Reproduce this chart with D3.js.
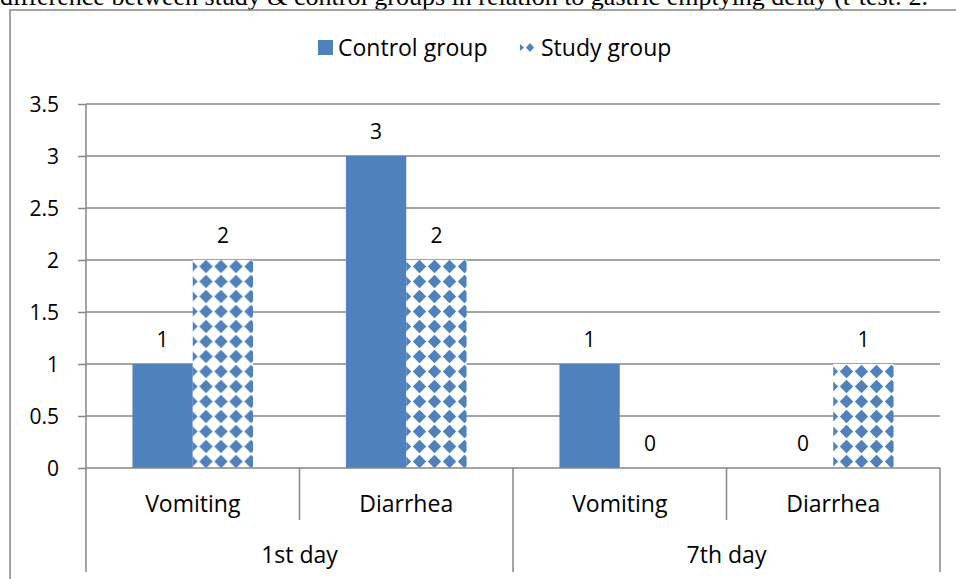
<!DOCTYPE html>
<html>
<head>
<meta charset="utf-8">
<script src="https://cdn.jsdelivr.net/npm/d3@7"></script>
<style>
  body { margin: 0; background: #fff; }
  svg { display: block; }
</style>
</head>
<body>
<script>
    // Data
    let subCats = ["Vomiting", "Diarrhea", "Vomiting", "Diarrhea"];
    let groups = ["1st day", "1st day", "7th day", "7th day"];
    let dayLabels = ["1st day", "7th day"];
    let series = ["Control group", "Study group"];
    let control = [1, 3, 1, 0];
    let study = [2, 2, 0, 1];
    let yTicks = [0, 0.5, 1, 1.5, 2, 2.5, 3, 3.5];

    let W = 956, H = 579;
    let blue = "#4F81BD", grid = "#868686";
    let font = "'Open Sans', sans-serif";
    let fs = 23;

    let svg = d3.select("body").append("svg")
        .attr("width", W).attr("height", H);

    // pattern for study group
    let defs = svg.append("defs");
    let pat = defs.append("pattern")
        .attr("id", "diam")
        .attr("patternUnits", "userSpaceOnUse")
        .attr("x", -7.5).attr("y", 4)
        .attr("width", 15).attr("height", 15);
    pat.append("rect").attr("width", 15).attr("height", 15).attr("fill", "#fff");
    pat.append("path").attr("d", "M7.5,0.8L14.2,7.5L7.5,14.2L0.8,7.5Z").attr("fill", blue);

    // caption line cut at top of picture
    svg.append("text")
        .attr("x", 0).attr("y", 5)
        .attr("font-family", "'Liberation Serif', serif")
        .attr("font-size", 26)
        .text("difference between study & control groups in relation to gastric emptying delay (t-test: 2.");

    // chart frame
    svg.append("rect")
        .attr("x", 10).attr("y", 10)
        .attr("width", 1000).attr("height", 700)
        .attr("fill", "none").attr("stroke", grid).attr("stroke-width", 1.5);

    let x0 = 86, x1 = 940, yTop = 104, yBot = 468;
    let y = d3.scaleLinear().domain([0, 3.5]).range([yBot, yTop]);
    let x = d3.scaleBand().domain(d3.range(subCats.length)).range([x0, x1]);
    let inner = d3.scaleBand().domain(series).range([0, x.bandwidth()]).paddingOuter(0.77).paddingInner(0);

    // gridlines
    svg.append("g").selectAll("line").data(yTicks.slice(1)).join("line")
        .attr("x1", x0).attr("x2", x1)
        .attr("y1", d => y(d)).attr("y2", d => y(d))
        .attr("stroke", grid).attr("stroke-width", 1.5);

    // y axis
    let yAxis = svg.append("g")
        .attr("transform", `translate(${x0},0)`)
        .call(d3.axisLeft(y).tickValues(yTicks).tickSize(8).tickPadding(19).tickFormat(d3.format("")));
    yAxis.select(".domain").remove();
    yAxis.selectAll(".tick line").attr("stroke", grid).attr("stroke-width", 1.5);
    yAxis.selectAll(".tick text")
        .attr("font-family", font).attr("font-size", 21).attr("fill", "#000")
        .attr("dy", "0.36em");
    yAxis.append("line").attr("y1", yTop).attr("y2", 572)
        .attr("stroke", grid).attr("stroke-width", 1.5);

    // bars
    let rows = subCats.map((c, i) => ({ i, c, vals: [control[i], study[i]] }));
    let bar = svg.append("g").selectAll("g").data(rows).join("g")
        .attr("transform", d => `translate(${x(d.i)},0)`);
    bar.selectAll("rect").data(d => d.vals.map((v, k) => ({ v, s: series[k], k }))).join("rect")
        .attr("x", d => inner(d.s))
        .attr("width", inner.bandwidth())
        .attr("y", d => y(d.v))
        .attr("height", d => y(0) - y(d.v))
        .attr("fill", d => d.k === 0 ? blue : "url(#diam)");
    bar.selectAll("text").data(d => d.vals.map((v, k) => ({ v, s: series[k] }))).join("text")
        .attr("x", d => inner(d.s) + inner.bandwidth() / 2)
        .attr("y", d => y(d.v) - 17)
        .attr("text-anchor", "middle")
        .attr("font-family", font).attr("font-size", 21)
        .text(d => d.v);

    // x axis
    svg.append("line").attr("x1", x0).attr("x2", x1).attr("y1", yBot).attr("y2", yBot)
        .attr("stroke", grid).attr("stroke-width", 1.5);
    let xa = svg.append("g");
    xa.selectAll("line").data(d3.range(1, subCats.length + 1)).join("line")
        .attr("x1", i => i === subCats.length ? x1 : x(i))
        .attr("x2", i => i === subCats.length ? x1 : x(i))
        .attr("y1", yBot)
        .attr("y2", i => i % 2 === 0 ? 572 : 520)
        .attr("stroke", grid).attr("stroke-width", 1.5);
    xa.selectAll("text.sub").data(subCats).join("text")
        .attr("class", "sub")
        .attr("x", (d, i) => x(i) + x.bandwidth() / 2)
        .attr("y", 512)
        .attr("text-anchor", "middle")
        .attr("font-family", font).attr("font-size", fs)
        .text(d => d);
    xa.selectAll("text.grp").data(dayLabels).join("text")
        .attr("class", "grp")
        .attr("x", d => {
            let idx = groups.map((g, i) => g === d ? i : -1).filter(i => i >= 0);
            return (x(idx[0]) + x(idx[idx.length - 1]) + x.bandwidth()) / 2;
        })
        .attr("y", 563)
        .attr("text-anchor", "middle")
        .attr("font-family", font).attr("font-size", fs)
        .text(d => d);

    // legend
    let lg = svg.append("g");
    lg.append("rect").attr("x", 318).attr("y", 40).attr("width", 15).attr("height", 15).attr("fill", blue);
    lg.append("text").attr("x", 338).attr("y", 56)
        .attr("font-family", font).attr("font-size", fs).text(series[0]);
    lg.append("path").attr("d", "M520,44L524,47.5L520,51Z").attr("fill", blue);
    lg.append("path").attr("d", "M530,43L534,47.5L530,52L526,47.5Z").attr("fill", blue);
    lg.append("text").attr("x", 541).attr("y", 56)
        .attr("font-family", font).attr("font-size", fs).text(series[1]);
</script>
</body>
</html>
